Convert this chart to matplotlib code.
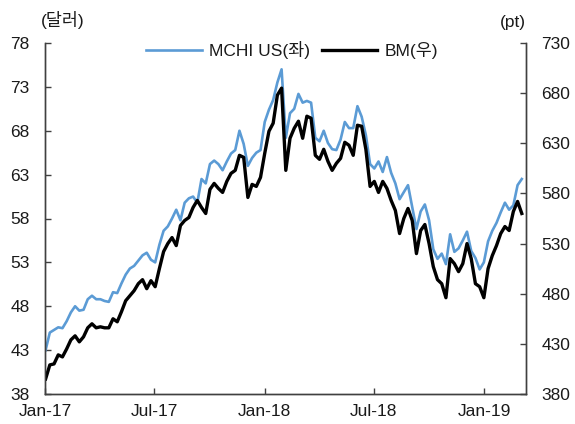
import matplotlib
matplotlib.use("Agg")
import matplotlib.pyplot as plt
import pandas as pd

plt.rcParams['font.family'] = ['Liberation Sans', 'Noto Sans CJK KR', 'DejaVu Sans']

start_date = "2017-01-02"
mchi_values = [
    43.0, 45.0, 45.3, 45.6, 45.5, 46.3, 47.3, 48.0, 47.5, 47.6,
    48.8, 49.2, 48.8, 48.8, 48.6, 48.5, 49.6, 49.5, 50.6, 51.6,
    52.3, 52.6, 53.2, 53.8, 54.1, 53.3, 53.0, 55.0, 56.6, 57.1,
    58.0, 59.0, 57.8, 59.8, 60.3, 60.5, 59.8, 62.5, 62.0, 64.2,
    64.6, 64.2, 63.5, 64.5, 65.4, 65.8, 68.0, 66.5, 64.0, 64.9,
    65.5, 65.8, 69.0, 70.4, 71.5, 73.5, 75.0, 67.2, 70.0, 70.5,
    72.2, 71.2, 71.4, 71.2, 67.2, 66.8, 68.0, 66.6, 65.9, 65.8,
    67.0, 69.0, 68.3, 68.3, 70.8, 69.6, 67.5, 64.2, 63.7, 64.5,
    63.3, 65.0, 63.2, 62.0, 60.2, 61.0, 61.8, 59.3, 56.8, 58.8,
    59.6, 57.8, 54.5, 53.4, 54.0, 52.8, 56.2, 54.2, 54.6, 55.5,
    56.5, 54.3, 53.5, 52.2, 53.0, 55.4, 56.6, 57.5, 58.7, 59.8,
    59.0, 59.5, 61.8, 62.5,
]
bm_values = [
    395, 409, 410, 419, 417, 425, 434, 438, 432, 437,
    446, 450, 446, 447, 446, 446, 455, 452, 462, 473,
    478, 483, 490, 494, 485, 493, 487, 505, 522, 530,
    536, 528, 548, 553, 556, 566, 573, 566, 560, 584,
    590, 585, 581, 592, 600, 603, 618, 616, 576, 589,
    587, 596, 620, 642, 650, 678, 685, 603, 635, 645,
    652, 635, 657, 655, 618, 614, 624, 612, 603, 610,
    615, 631, 628, 618, 648, 647, 624, 587, 592, 581,
    592, 585, 573, 563, 540, 555, 565, 553, 520, 543,
    549, 530, 507, 494, 490, 476, 515, 510, 502, 510,
    530, 515, 490, 487, 476, 505, 518, 528, 540, 547,
    543, 562, 572, 560,
]
dates = pd.date_range(start_date, periods=len(mchi_values), freq="7D")

x_tick_dates = ["2017-01-01", "2017-07-01", "2018-01-01", "2018-07-01", "2019-01-01"]
x_tick_labels = ["Jan-17", "Jul-17", "Jan-18", "Jul-18", "Jan-19"]
left_ticks = [38, 43, 48, 53, 58, 63, 68, 73, 78]
right_ticks = [380, 430, 480, 530, 580, 630, 680, 730]

label_left = "MCHI US(좌)"
label_right = "BM(우)"
unit_left = "(달러)"
unit_right = "(pt)"

blue = "#5B9BD5"
spine_color = "#404040"
text_color = "#1a1a1a"
fs = 12.5

fig = plt.figure(figsize=(5.75, 4.24), dpi=100)
ax = fig.add_axes([45/575, 1-394/424, (526-45)/575, (394-43)/424])
ax2 = ax.twinx()

l1, = ax.plot(dates, mchi_values, color=blue, lw=1.9, label=label_left)
l2, = ax2.plot(dates, bm_values, color="black", lw=2.4, label=label_right)

ax.set_ylim(38, 78)
ax2.set_ylim(380, 730)
ax.set_yticks(left_ticks)
ax2.set_yticks(right_ticks)
ax.set_xlim(pd.Timestamp("2017-01-01"), pd.Timestamp("2019-03-11"))
ax.set_xticks([pd.Timestamp(d) for d in x_tick_dates])
ax.set_xticklabels(x_tick_labels)

for a in (ax, ax2):
    a.spines['top'].set_visible(False)
    for s in ('left', 'right', 'bottom'):
        a.spines[s].set_color(spine_color)
        a.spines[s].set_linewidth(1.0)
    a.set_facecolor('none')

ax.tick_params(axis='y', direction='in', length=4, width=1, color=spine_color,
               labelsize=fs, pad=11, labelcolor=text_color)
ax2.tick_params(axis='y', direction='in', length=4, width=1, color=spine_color,
                labelsize=fs, pad=11, labelcolor=text_color)
ax.tick_params(axis='x', direction='in', length=4, width=1, color=spine_color,
               labelsize=fs, pad=7, labelcolor=text_color)

fig.text(41/575, 1-20/424, unit_left, fontsize=fs, ha='left', va='center', color=text_color)
fig.text(526/575, 1-22/424, unit_right, fontsize=fs, ha='right', va='center', color=text_color)

fig.legend(handles=[l1, l2], loc='center', bbox_to_anchor=(292/575, 1-50/424),
           ncol=2, frameon=False, fontsize=fs, handlelength=3.2,
           handletextpad=0.4, columnspacing=0.7, labelcolor=text_color)

fig.savefig("out.png", dpi=100)
